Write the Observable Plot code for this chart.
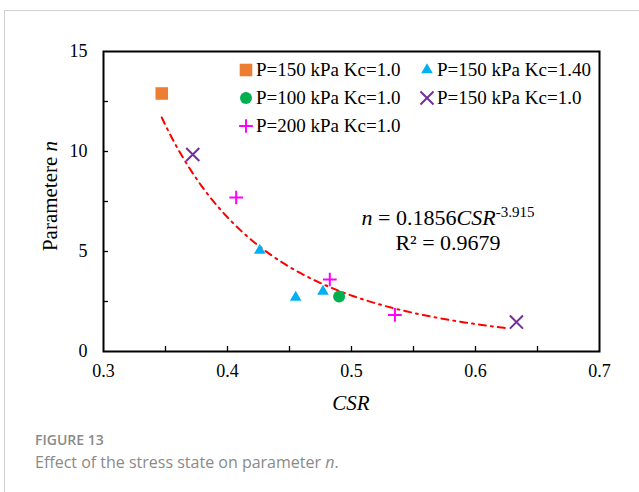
<!DOCTYPE html>
<html>
<head>
<meta charset="utf-8">
<script src="https://cdn.jsdelivr.net/npm/d3@7"></script>
<script src="https://cdn.jsdelivr.net/npm/@observablehq/plot@0.6"></script>
<style>
  body { margin: 0; background: #fff; width: 639px; height: 492px; overflow: hidden; position: relative; }
  #card { position: absolute; left: 4px; top: 10px; width: 700px; height: 600px; border-left: 1px solid #d2d2d2; border-top: 1px solid #d2d2d2; }
  #chart { position: absolute; left: 0; top: 0; }
  .serif { font-family: "Liberation Serif", "Times New Roman", serif; color: #000; }
  #legend { position: absolute; left: 238px; top: 56px; font-size: 19px; }
  .leg { position: absolute; display: flex; align-items: center; white-space: nowrap; height: 28px; }
  .leg svg { margin-right: 2px; }
  #ylab { position: absolute; left: 50px; top: 196px; font-size: 21px; transform: translate(-50%, -50%) rotate(-90deg); white-space: nowrap; }
  #xlab { position: absolute; left: 351px; top: 403px; font-size: 21px; font-style: italic; transform: translate(-50%, -50%); }
  #eq { position: absolute; left: 448px; top: 218px; font-size: 22px; transform: translate(-50%, -50%); white-space: nowrap; }
  #r2 { position: absolute; left: 448px; top: 243px; font-size: 22px; transform: translate(-50%, -50%); white-space: nowrap; }
  #eq sup { font-size: 15px; vertical-align: 0; position: relative; top: -8px; }
  #fig { position: absolute; left: 35px; top: 430px; font-family: "Open Sans", sans-serif; font-size: 14px; font-weight: 600; color: #8a8a8a; }
  #cap { position: absolute; left: 35px; top: 451px; font-family: "Open Sans", sans-serif; font-size: 16px; color: #8a8a8a; }
</style>
</head>
<body>
<div id="card"></div>
<div id="chart"></div>
<div id="legend" class="serif"></div>
<div id="ylab" class="serif">Parametere <i>n</i></div>
<div id="xlab" class="serif">CSR</div>
<div id="eq" class="serif"><i>n</i> = 0.1856<i>CSR</i><sup>-3.915</sup></div>
<div id="r2" class="serif">R² = 0.9679</div>
<div id="fig">FIGURE 13</div>
<div id="cap">Effect of the stress state on parameter <i>n</i>.</div>
<script>
// ---- data ----
const seriesLabels = ["P=150 kPa Kc=1.0", "P=150 kPa Kc=1.40", "P=100 kPa Kc=1.0", "P=150 kPa Kc=1.0", "P=200 kPa Kc=1.0"];
const seriesSymbols = ["square", "triangle", "circle", "times", "plus"];
const seriesColors = ["#ED7D31", "#00B0F0", "#00B050", "#7030A0", "#FF00FF"];

const squareCSR = [0.347];
const squareN = [12.9];
const triangleCSR = [0.426, 0.455, 0.477];
const triangleN = [5.05, 2.7, 3.0];
const circleCSR = [0.490];
const circleN = [2.75];
const timesCSR = [0.372, 0.633];
const timesN = [9.85, 1.47];
const plusCSR = [0.407, 0.4825, 0.535];
const plusN = [7.7, 3.6, 1.83];

const xTickLabels = [0.3, 0.4, 0.5, 0.6, 0.7];
const xMinorTicks = [0.35, 0.4, 0.45, 0.5, 0.55, 0.6, 0.65];
const yTickLabels = [0, 5, 10, 15];
const yMinorTicks = [2.5, 5, 7.5, 10, 12.5];

// power-law fit shown on the chart: n = 0.1856 CSR^-3.915
const fitCoef = 0.1856;
const fitExp = -3.915;
const fitRange = [0.347, 0.628];

// ---- layout ----
const W = 639, H = 420, mL = 103, mR = 40, mT = 51, mB = 69;
const innerW = W - mL - mR, innerH = H - mT - mB;
const tickLen = 5;

// ---- build tables ----
const seriesCSR = [squareCSR, triangleCSR, circleCSR, timesCSR, plusCSR];
const seriesN = [squareN, triangleN, circleN, timesN, plusN];
const symbolR = { square: 7.1, triangle: 4.3, circle: 6, times: 6, plus: 4.5 };
const stroked = { times: true, plus: true };

const points = [];
seriesCSR.forEach((xs, s) => xs.forEach((x, i) => points.push({ s, csr: x, n: seriesN[s][i] })));

const fitLine = d3.range(fitRange[0], fitRange[1] + 1e-9, 0.002).map(x => ({ csr: x, n: fitCoef * Math.pow(x, fitExp) }));

const dotMarks = seriesSymbols.map((sym, s) => {
  const data = points.filter(p => p.s === s);
  const opts = { x: "csr", y: "n", symbol: () => sym, r: symbolR[sym] };
  if (stroked[sym]) { opts.stroke = seriesColors[s]; opts.strokeWidth = 2; opts.fill = "none"; }
  else { opts.fill = seriesColors[s]; opts.stroke = "none"; }
  return Plot.dot(data, opts);
});

const chart = Plot.plot({
  width: W,
  height: H,
  marginLeft: mL,
  marginRight: mR,
  marginTop: mT,
  marginBottom: mB,
  style: { fontFamily: "Liberation Serif, Times New Roman, serif", fontSize: "18px", color: "#000", background: "transparent" },
  x: { domain: [0.3, 0.7], axis: null },
  y: { domain: [0, 15], axis: null },
  symbol: { type: "identity" },
  marks: [
    Plot.axisX({ ticks: xTickLabels, tickSize: 0, tickPadding: 13, tickFormat: d => d.toFixed(1), fontSize: 18, label: null }),
    Plot.axisY({ ticks: yTickLabels, tickSize: 0, tickPadding: 16, fontSize: 18, label: null }),
    // inward minor ticks
    Plot.ruleX(xMinorTicks, { x: d => d, stroke: "#000", strokeWidth: 1.3, insetTop: innerH - tickLen }),
    Plot.ruleY(yMinorTicks, { y: d => d, stroke: "#000", strokeWidth: 1.3, insetRight: innerW - tickLen }),
    Plot.line(fitLine, { x: "csr", y: "n", stroke: "#FF0000", strokeWidth: 2, strokeDasharray: "7,5,2,5" }),
    ...dotMarks,
    Plot.frame({ stroke: "#000", strokeWidth: 2 })
  ]
});
document.getElementById("chart").appendChild(chart);

// ---- legend ----
const legend = document.getElementById("legend");
seriesLabels.forEach((label, i) => {
  const sym = seriesSymbols[i];
  const col = i % 2, row = Math.floor(i / 2);
  const div = document.createElement("div");
  div.className = "leg";
  div.style.left = (col * 181) + "px";
  div.style.top = (row * 28) + "px";
  const r = symbolR[sym];
  const symType = { square: d3.symbolSquare, triangle: d3.symbolTriangle, circle: d3.symbolCircle, times: d3.symbolTimes, plus: d3.symbolPlus }[sym];
  const path = d3.symbol(symType, Math.PI * r * r)();
  const style = stroked[sym] ? `fill="none" stroke="${seriesColors[i]}" stroke-width="2"` : `fill="${seriesColors[i]}"`;
  div.innerHTML = `<svg width="16" height="16" viewBox="-8 -8 16 16"><path d="${path}" ${style}/></svg><span>${label}</span>`;
  legend.appendChild(div);
});
</script>
</body>
</html>
